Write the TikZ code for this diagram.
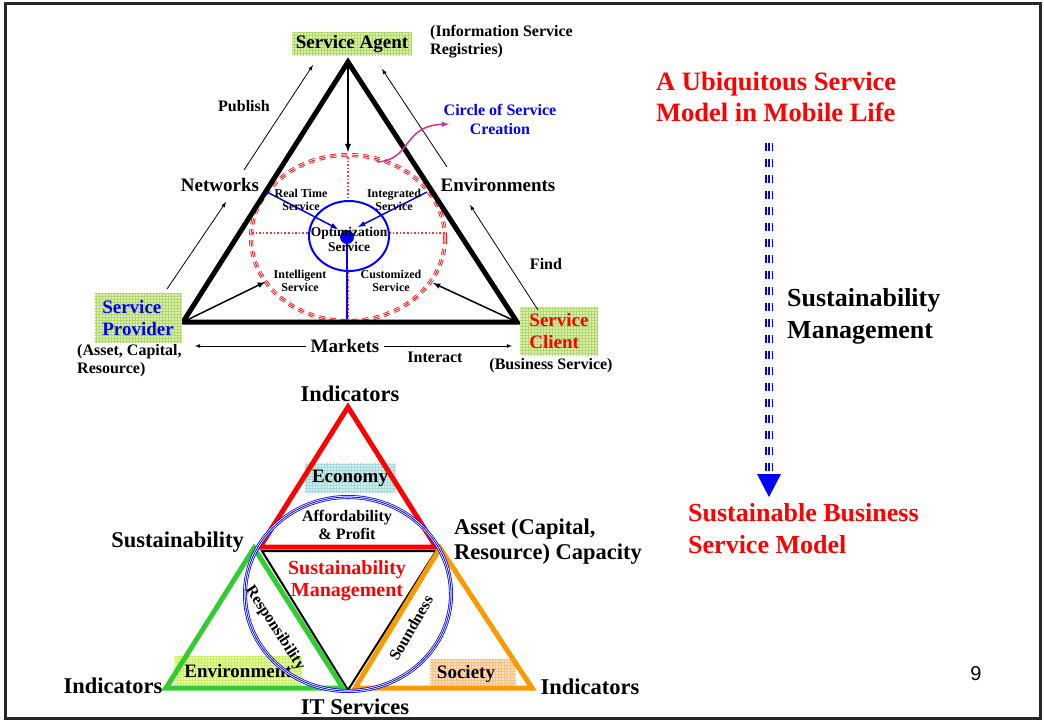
\documentclass[tikz,border=0pt]{standalone}
\usepackage{fontspec}
\setmainfont{Liberation Serif}
\newfontfamily\pagefont{Liberation Sans}
\usetikzlibrary{arrows,positioning,patterns}
\definecolor{boxgreen}{HTML}{99CC33}
\definecolor{boxcyan}{HTML}{88CCCC}
\definecolor{boxorange}{HTML}{FFAA55}
\definecolor{boxyellow}{HTML}{BBEE22}
\definecolor{arcpink}{HTML}{CC3399}
\definecolor{trigreen}{HTML}{33CC33}
\definecolor{triorange}{HTML}{FF9900}
\tikzset{
  tinylbl/.style={font=\bfseries\fontsize{12}{13.5}\selectfont,align=center,inner sep=0pt},
  lbl/.style={font=\bfseries\fontsize{16}{18}\selectfont,align=center,inner sep=1pt},
  biglbl/.style={font=\bfseries\fontsize{19}{21.5}\selectfont,align=center,inner sep=1pt},
  hugelbl/.style={font=\bfseries\fontsize{22.5}{25}\selectfont,align=center,inner sep=0pt},
  titlelbl/.style={font=\bfseries\fontsize{26.5}{31.5}\selectfont,align=left,inner sep=0pt,anchor=west},
  gridbox/.style={fill=#1!35,postaction={pattern=grid,pattern color=#1!75},inner sep=2pt},
  thinarrow/.style={-latex,line width=0.8pt},
  tripleline/.style={draw=#1,line width=4pt,postaction={draw=white,line width=2.4pt},postaction={draw=#1,line width=0.8pt}},
  crossdot/.style={dotted,line width=1.6pt,red!80},
  tri/.style={line width=5pt,line join=miter},
}
\begin{document}
\begin{tikzpicture}[x=1pt,y=-1pt]
\useasboundingbox (0,0) rectangle (1044,722);
\draw[line width=3pt,black!85] (5,4) rectangle (1040,718);
%
% service model triangle
\coordinate (ta) at (348,62);
\coordinate (tl) at (183,322);
\coordinate (tr) at (517,322);
\coordinate (cc) at (348,238);
\draw[tripleline=red,dash pattern=on 6pt off 5pt] (cc) ellipse (97 and 83);
\draw[crossdot] (348,157) -- (348,202);
\draw[crossdot] (348,272) -- (348,320);
\draw[crossdot] (252,233) -- (309,233);
\draw[crossdot] (389,233) -- (445,233);
\draw[tri] (ta) -- (tl) -- (tr) -- cycle;
%
\node (agent) [gridbox=boxgreen,biglbl,minimum width=120pt,minimum height=23pt] at (352,44) {Service Agent};
\node (registry) [lbl,align=left,anchor=west,inner sep=0pt] at (430,42) {(Information Service\\Registries)};
\node (provider) [gridbox=boxgreen,biglbl,align=left,text=blue,minimum width=87pt,minimum height=49pt] at (138,318) {Service\\Provider};
\node (assetnote) [lbl,align=left,anchor=west,inner sep=0pt] at (77,361) {(Asset, Capital,\\Resource)};
\node (client) [gridbox=boxgreen,biglbl,align=left,text=red,minimum width=78pt,minimum height=48pt] at (559,331) {Service\\Client};
\node (bizservice) [lbl] at (551,366) {(Business Service)};
\node (publish) [lbl] at (244,106) {Publish};
\node (networks) [biglbl] at (220,185) {Networks};
\node (envs) [biglbl] at (498,185) {Environments};
\node (find) [lbl] at (546,264) {Find};
\node (markets) [biglbl,inner sep=5pt] at (345,346) {Markets};
\node (interact) [lbl] at (435,357) {Interact};
\node (circlelbl) [lbl,text=blue,font=\bfseries\fontsize{16}{19}\selectfont] at (500,119) {Circle of Service\\Creation};
%
% circle of service creation
\draw[blue,line width=2pt] (349,236) ellipse (40 and 35);
\fill[blue] (347,237) circle (7);
\coordinate (hub) at (347,237);
\coordinate (rtspoke) at (267,192);
\coordinate (rtend) at (338,229);
\coordinate (itspoke) at (427,192);
\coordinate (itend) at (358,227);
\coordinate (hubfoot) at (347,319);
\draw[blue,line width=1.5pt,-latex] (rtspoke) -- (rtend);
\draw[blue,line width=1.5pt,-latex] (itspoke) -- (itend);
\draw[blue,line width=1.5pt] (hub) -- (hubfoot);
\node (realtime) [tinylbl] at (301,200) {Real Time\\Service};
\node (integrated) [tinylbl] at (394,200) {Integrated\\Service};
\node (opt) [tinylbl,font=\bfseries\fontsize{13.5}{15}\selectfont] at (349,239) {Optimization\\Service};
\node (intelligent) [tinylbl] at (300,281) {Intelligent\\Service};
\node (customized) [tinylbl] at (391,281) {Customized\\Service};
%
% arrows round the triangle
\coordinate (pub0) at (167,289);
\coordinate (pub1) at (226,202);
\coordinate (pub2) at (244,170);
\coordinate (pub3) at (313,65);
\coordinate (find0) at (538,310);
\coordinate (find1) at (470,205);
\coordinate (find2) at (447,167);
\coordinate (find3) at (382,69);
\coordinate (agentin) at (348,152);
\coordinate (mkleft) at (195,346);
\coordinate (mkright) at (512,346);
\coordinate (intelin) at (265,282);
\coordinate (custin) at (433,283);
\coordinate (arc0) at (377,162);
\coordinate (arc1) at (449,124);
\path[thinarrow] (pub0) edge (pub1);
\path[thinarrow] (pub2) edge (pub3);
\path[thinarrow] (find0) edge (find1);
\path[thinarrow] (find2) edge (find3);
\path[thinarrow] (markets) edge (mkleft);
\path[thinarrow] (markets) edge (mkright);
\path[-latex,line width=1.8pt] (ta) edge (agentin);
\path[-latex,line width=1.5pt,shorten <=5pt] (tl) edge (intelin);
\path[-latex,line width=1.5pt,shorten <=5pt] (tr) edge (custin);
\draw[-latex,arcpink,line width=1.5pt] (arc0) .. controls (412,160) and (402,126) .. (arc1);
%
% sustainability triangles
\node (economy) [gridbox=boxcyan,biglbl,minimum width=91pt,minimum height=29pt] at (350,478) {Economy};
\node (environ) [gridbox=boxyellow,biglbl,minimum width=127pt,minimum height=29pt] at (238,671) {Environment};
\node (societybox) [gridbox=boxorange,minimum width=86pt,minimum height=27pt] at (473,673) {};
\coordinate (ra) at (348,407);
\coordinate (rl) at (260,547);
\coordinate (rr) at (436,547);
\coordinate (bl) at (262,551);
\coordinate (br) at (436,551);
\coordinate (bb) at (348,690);
\coordinate (ga) at (254,548);
\coordinate (gl) at (166,688);
\coordinate (gr) at (343,688);
\coordinate (oa) at (440,548);
\coordinate (ol) at (355,688);
\coordinate (or) at (532,688);
\draw[line width=2pt] (bl) -- (br) -- (bb) -- cycle;
\draw[tri,red] (ra) -- (rl) -- (rr) -- cycle;
\draw[tri,trigreen] (ga) -- (gl) -- (gr) -- cycle;
\draw[tri,triorange] (oa) -- (ol) -- (or) -- cycle;
\draw[tripleline=blue] (348,594) ellipse (103 and 97);
%
\node (society) [biglbl] at (466,674) {Society};
\node (topind) [hugelbl] at (350,394) {Indicators};
\node (afford) [lbl] at (347,525) {Affordability\\\& Profit};
\node (sustleft) [hugelbl,anchor=east] at (244,542) {Sustainability};
\node (assetcap) [hugelbl,align=left,anchor=west] at (454,542) {Asset (Capital,\\Resource) Capacity};
\node (summgmt) [hugelbl,text=red,font=\bfseries\fontsize{20}{21.5}\selectfont] at (347,581) {Sustainability\\Management};
\node (resp) [lbl,rotate=-57] at (275,628) {Responsibility};
\node (sound) [lbl,rotate=60] at (411,628) {Soundness};
\node (indleft) [hugelbl] at (113,686) {Indicators};
\node (indright) [hugelbl] at (590,687) {Indicators};
\node (itserv) [hugelbl] at (355,707) {IT Services};
%
% right column
\node (ubiq) [titlelbl,text=red] at (656,97) {A Ubiquitous Service\\Model in Mobile Life};
\node (summright) [titlelbl,font=\bfseries\fontsize{26}{32}\selectfont] at (787,316) {Sustainability\\Management};
\node (susmodel) [titlelbl,text=red,font=\bfseries\fontsize{26}{32}\selectfont] at (688,529) {Sustainable Business\\Service Model};
\coordinate (dash0) at (769,143);
\coordinate (dash1) at (769,474);
\draw[tripleline=blue,line width=8pt,dash pattern=on 8pt off 8pt,postaction={draw=white,line width=5pt},postaction={draw=blue,line width=1.4pt}] (dash0) -- (dash1);
\fill[blue] (757,474) -- (781,474) -- (769,497) -- cycle;
\node (pagenum) [font=\pagefont\fontsize{20}{22}\selectfont] at (976,674) {9};
\end{tikzpicture}
\end{document}
